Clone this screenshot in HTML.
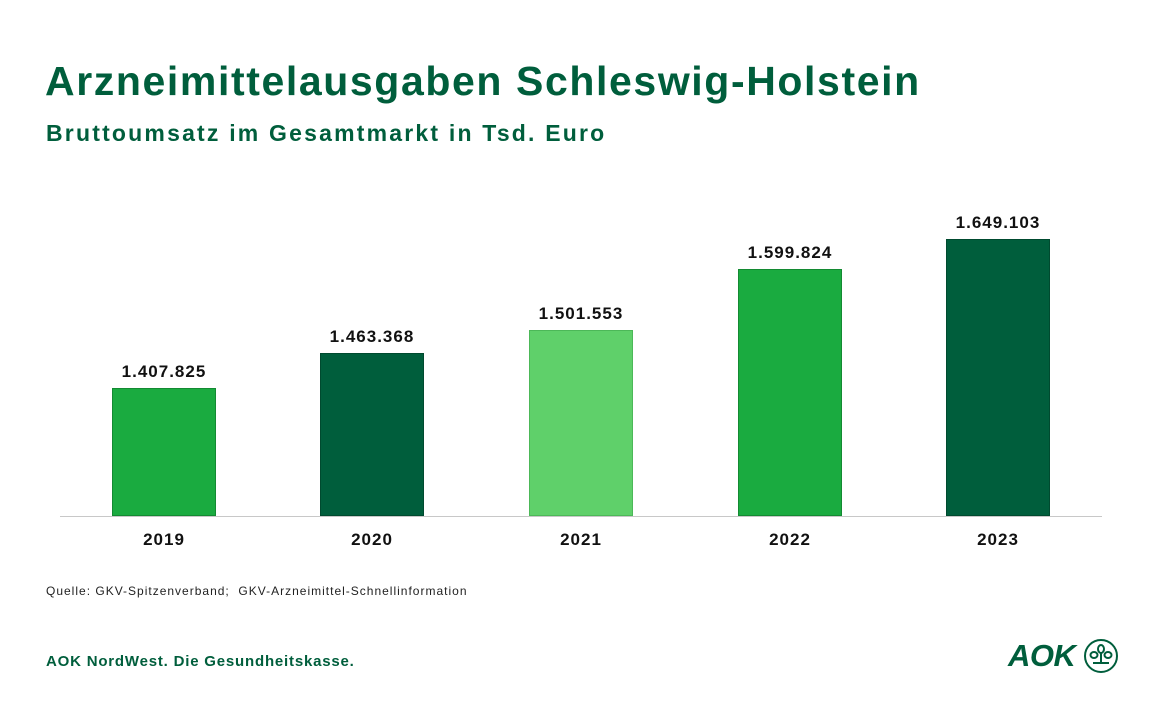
<!DOCTYPE html>
<html><head><meta charset="utf-8"><style>
body{margin:0;width:1152px;height:720px;background:#fff;position:relative;overflow:hidden;font-family:"Liberation Sans",sans-serif;color:#005e3c}
div{position:absolute}
.bar{bottom:204px;width:104px;box-sizing:border-box}
.v{width:160px;text-align:center;font-weight:bold;font-size:17px;color:#111;letter-spacing:1px}
.y{width:160px;text-align:center;font-weight:bold;font-size:17px;color:#111;top:530px;letter-spacing:1px}
</style></head><body>
<div style="left:45px;top:58px;font-size:41px;font-weight:bold;letter-spacing:1.6px;white-space:nowrap">Arzneimittelausgaben Schleswig-Holstein</div>
<div style="left:46px;top:120px;font-size:23px;font-weight:bold;letter-spacing:2.2px;white-space:nowrap">Bruttoumsatz im Gesamtmarkt in Tsd. Euro</div>

<div style="left:60px;top:516px;width:1042px;height:1px;background:#c8c8c8"></div>

<div class="bar" style="left:112px;top:388px;height:128px;background:#1aab40;border:1px solid #138a32"></div>
<div class="bar" style="left:320px;top:353px;height:163px;background:#005e3c;border:1px solid #004a2f"></div>
<div class="bar" style="left:529px;top:330px;height:186px;background:#5fd06a;border:1px solid #4cb858"></div>
<div class="bar" style="left:738px;top:269px;height:247px;background:#1aab40;border:1px solid #138a32"></div>
<div class="bar" style="left:946px;top:239px;height:277px;background:#005e3c;border:1px solid #004a2f"></div>

<div class="v" style="left:84px;top:362px">1.407.825</div>
<div class="v" style="left:292px;top:327px">1.463.368</div>
<div class="v" style="left:501px;top:304px">1.501.553</div>
<div class="v" style="left:710px;top:243px">1.599.824</div>
<div class="v" style="left:918px;top:213px">1.649.103</div>

<div class="y" style="left:84px">2019</div>
<div class="y" style="left:292px">2020</div>
<div class="y" style="left:501px">2021</div>
<div class="y" style="left:710px">2022</div>
<div class="y" style="left:918px">2023</div>

<div style="left:46px;top:584px;font-size:12px;color:#222;letter-spacing:1px;white-space:nowrap">Quelle: GKV-Spitzenverband;&nbsp; GKV-Arzneimittel-Schnellinformation</div>
<div style="left:46px;top:653px;font-size:15px;font-weight:bold;letter-spacing:0.8px;white-space:nowrap">AOK NordWest. Die Gesundheitskasse.</div>
<div style="left:1008px;top:638px;font-size:31px;font-weight:bold;font-style:italic;letter-spacing:-0.5px">AOK</div>
<svg style="position:absolute;left:1083px;top:638px" width="36" height="36" viewBox="0 0 36 36">
<circle cx="18" cy="18" r="16" fill="none" stroke="#005e3c" stroke-width="2"/>
<g fill="none" stroke="#005e3c" stroke-width="2">
<ellipse cx="18" cy="11" rx="3" ry="4"/><ellipse cx="11" cy="17" rx="3.5" ry="3"/><ellipse cx="25" cy="17" rx="3.5" ry="3"/>
<path d="M18 15v9M10 25h16"/></g></svg>
</body></html>
